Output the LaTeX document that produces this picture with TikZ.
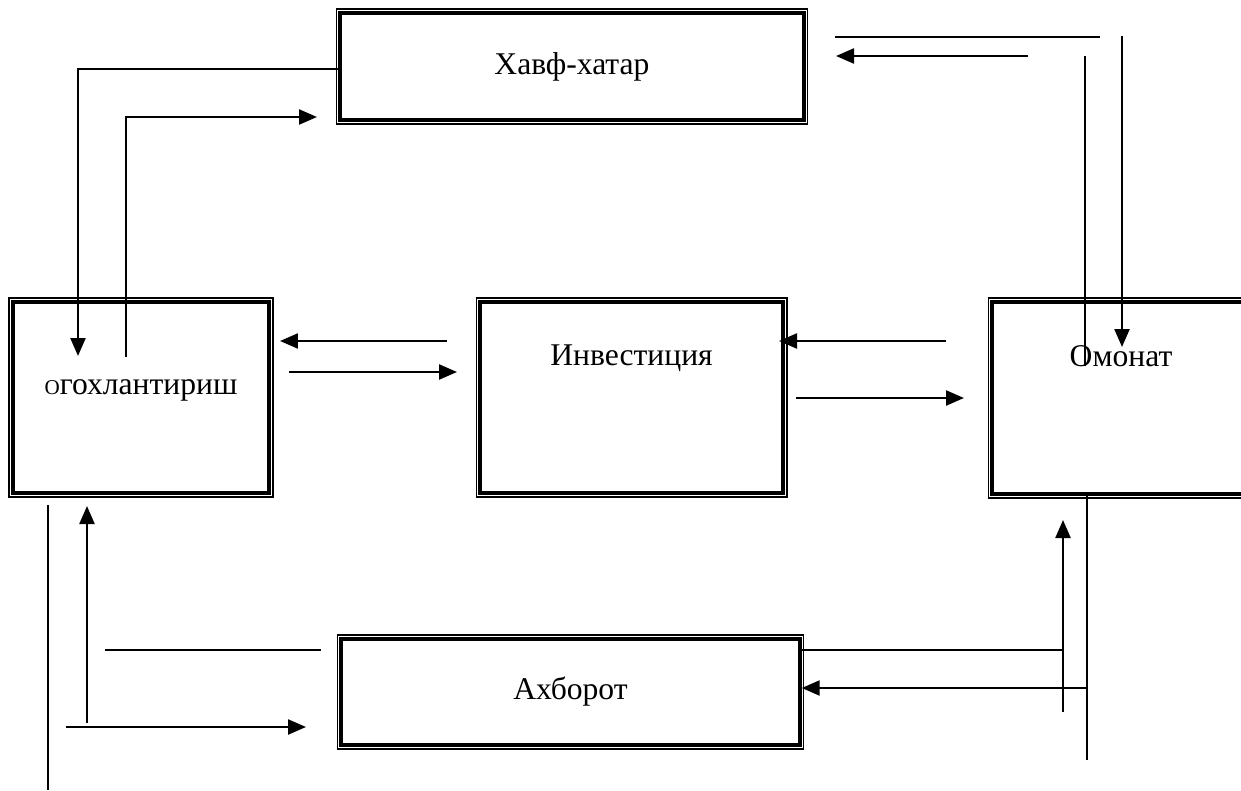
\documentclass[tikz,border=0pt]{standalone}
\usepackage{fontspec}
\setmainfont{Liberation Serif}
\usetikzlibrary{arrows.meta}
\begin{document}
\begin{tikzpicture}[x=.02cm,y=-.02cm,
  bloc/.style={draw,line width=2pt,inner sep=0pt},
  cadre/.style={line width=.6pt},
  trait/.style={line width=1pt},
  fleche/.style={line width=1.3pt,-{Triangle[length=.36cm,width=.3cm]}},
  font=\fontsize{18pt}{22pt}\selectfont]
\useasboundingbox (0,0) rectangle (1241,791);
\clip (0,0) rectangle (1241,791);
\node[bloc,minimum width=9.28cm,minimum height=2.14cm] (hx) at (572,66.5) {Хавф-хатар};
\node[bloc,minimum width=5.12cm,minimum height=3.82cm,
  label={[yshift=.15cm]center:{\fontsize{12pt}{14pt}\selectfont О}гохлантириш}] (og) at (141,397.5) {};
\node[bloc,minimum width=6.06cm,minimum height=3.82cm,
  label={[yshift=.79cm]center:Инвестиция}] (inv) at (631.5,397.5) {};
\node[bloc,minimum width=5.16cm,minimum height=3.84cm,
  label={[yshift=.84cm]center:Омонат}] (om) at (1121,398) {};
\node[bloc,minimum width=9.18cm,minimum height=2.12cm] (ax) at (570.5,692) {Ахборот};
\foreach \b in {hx,og,inv,om,ax}
  \draw[cadre] ([shift={(-.045cm,.045cm)}]\b.north west) rectangle ([shift={(.045cm,-.045cm)}]\b.south east);
% free ends
\coordinate (og-in) at (78,356); \coordinate (og-out) at (126,357); \coordinate (hx-in) at (317,117);
\coordinate (i1) at (447,341); \coordinate (o1) at (280,341);
\coordinate (i2) at (289,372); \coordinate (o2) at (457,372);
\coordinate (i3) at (946,341); \coordinate (o3) at (779,341);
\coordinate (i4) at (796,398); \coordinate (o4) at (964,398);
\coordinate (t1) at (835,37); \coordinate (t2) at (1100,37);
\coordinate (t3) at (1028,56); \coordinate (t4) at (836,56);
\coordinate (t5) at (1085,56); \coordinate (t6) at (1085,366);
\coordinate (t7) at (1122,36); \coordinate (t8) at (1122,347);
\coordinate (b1) at (48,505); \coordinate (b2) at (48,790);
\coordinate (b3) at (87,723); \coordinate (b4) at (87,506);
\coordinate (b5) at (105,650); \coordinate (b6) at (321,650);
\coordinate (b7) at (66,727); \coordinate (b8) at (306,727);
\coordinate (r1) at (1062,650);
\coordinate (r2) at (1063,712); \coordinate (r3) at (1063,520);
\coordinate (r4) at (1087,760); \coordinate (r5) at (1087,688);
% top
\draw[fleche] ([yshift=-.05cm]hx.west) -| (og-in);
\draw[fleche] (og-out) |- (hx-in);
\draw[trait] (t1) -- (t2); \draw[fleche] (t3) -- (t4);
\draw[trait] (t5) -- (t6); \draw[fleche] (t7) -- (t8);
% middle
\draw[fleche] (i1) -- (o1); \draw[fleche] (i2) -- (o2);
\draw[fleche] (i3) -- (o3); \draw[fleche] (i4) -- (o4);
% bottom
\draw[trait] (b1) -- (b2); \draw[fleche] (b3) -- (b4);
\draw[trait] (b5) -- (b6); \draw[fleche] (b7) -- (b8);
\draw[trait] (ax.east |- r1) -- (r1); \draw[fleche] (r2) -- (r3);
\draw[trait] (om.south -| r4) -- (r4); \draw[fleche] (r5) -- (ax.east |- r5);
\end{tikzpicture}
\end{document}
